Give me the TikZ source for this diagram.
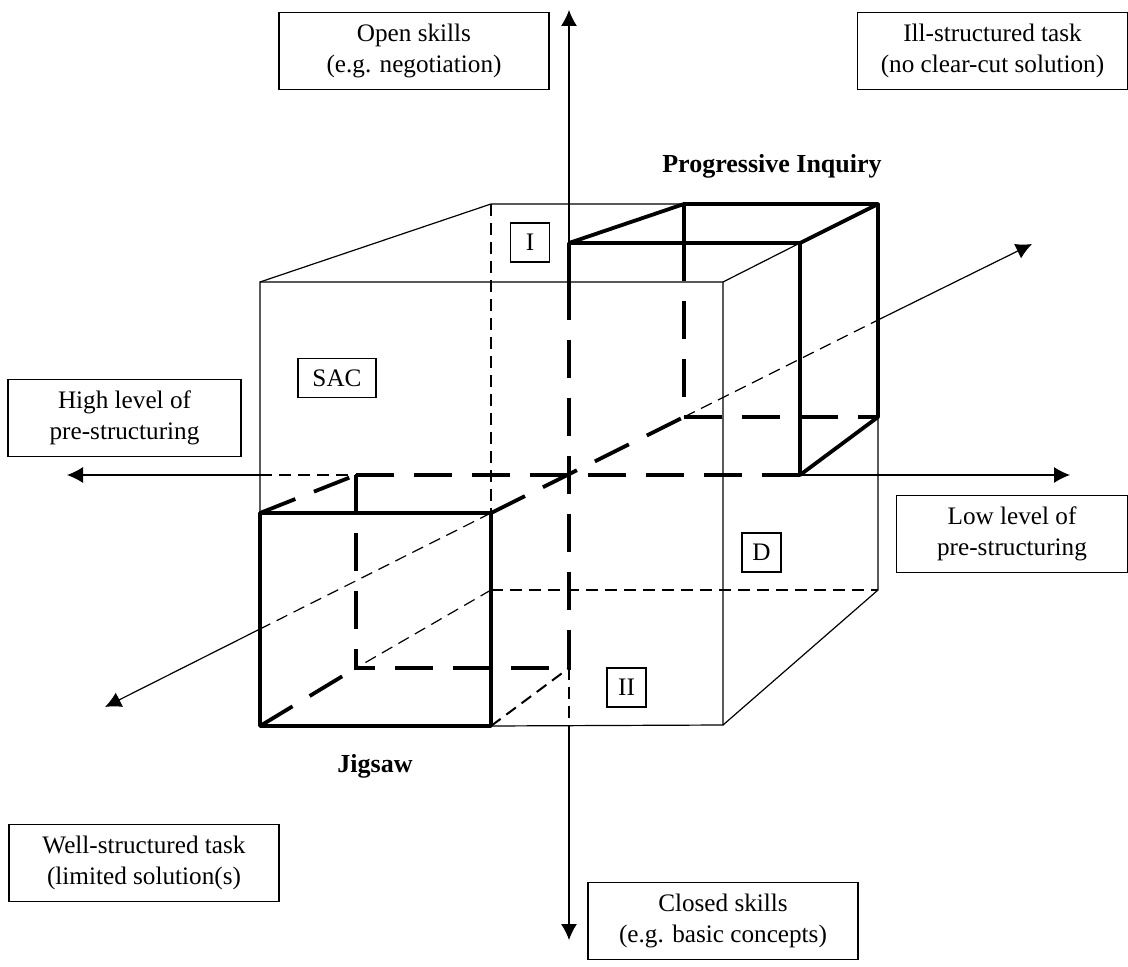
\documentclass[tikz,border=0pt]{standalone}
\usepackage{fontspec}
\setmainfont{Liberation Serif}
\usetikzlibrary{arrows.meta}

\begin{document}
\begin{tikzpicture}[x=0.5pt,y=-0.5pt,
  cubeline/.style={line width=0.6pt},
  cubehidden/.style={line width=0.6pt,dash pattern=on 6pt off 3.5pt},
  modelline/.style={line width=1.9pt,line join=round},
  modelhidden/.style={line width=1.9pt,dash pattern=on 19pt off 10pt},
  axisarrow/.style={line width=0.6pt,-{Latex[length=8pt,width=8pt]}},
  labelbox/.style={draw,line width=0.6pt,fill=white,align=center,inner sep=0pt,
    minimum width=135pt,minimum height=38.5pt,font=\fontsize{12.6}{15.5}\selectfont},
  tagbox/.style={draw,line width=0.6pt,fill=white,inner sep=0pt,
    minimum width=19.5pt,minimum height=19.5pt,font=\fontsize{12.6}{15.5}\selectfont},
  modelname/.style={font=\fontsize{13}{15.5}\selectfont\bfseries}]
  \useasboundingbox (0,0) rectangle (1128,967);

  % Corners of the big cube
  \coordinate (ftl) at (260,282);
  \coordinate (ftr) at (723,282);
  \coordinate (fbr) at (723,725);
  \coordinate (btl) at (491,204);
  \coordinate (btr) at (878,204);
  \coordinate (bbr) at (878,590);
  \coordinate (bbl) at (491,590);

  % Corners of Progressive Inquiry
  \coordinate (p1) at (569,243);
  \coordinate (p2) at (800,243);
  \coordinate (p3) at (800,475);
  \coordinate (p5) at (684,204);
  \coordinate (p7) at (878,417);
  \coordinate (p8) at (684,417);
  \coordinate (pk) at (684,243);

  % Corners of Jigsaw
  \coordinate (j1) at (260,513);
  \coordinate (j2) at (491,513);
  \coordinate (j3) at (491,726);
  \coordinate (j4) at (260,726);
  \coordinate (j5) at (356,475);
  \coordinate (j7) at (569,668);
  \coordinate (j8) at (356,668);
  \coordinate (jk) at (356,513);

  % Axis ends and crossings
  \coordinate (up) at (569,10);
  \coordinate (down) at (569,940);
  \coordinate (left) at (67,475);
  \coordinate (right) at (1070,475);
  \coordinate (front) at (105,707);
  \coordinate (back) at (1032,244);
  \coordinate (vt) at (569,282);
  \coordinate (vb) at (569,725);
  \coordinate (hl) at (260,475);
  \coordinate (fl) at (260,629);
  \coordinate (br) at (878,320);

  % Big cube
  \draw[cubeline] (j1) -- (ftl) -- (ftr) -- (fbr) -- (j3);
  \draw[cubeline] (ftl) -- (btl) -- (p5);
  \draw[cubeline] (ftr) -- (p2);
  \draw[cubeline] (p7) -- (bbr) -- (fbr);
  \draw[cubehidden] (btl) -- (j2);
  \draw[cubehidden] (bbl) -- (bbr);
  \draw[cubehidden] (bbl) -- (j8);

  % Axes
  \draw[axisarrow] (p1) -- (up);
  \draw[cubehidden] (j7) -- (vb);
  \draw[axisarrow] (vb) -- (down);
  \draw[cubehidden] (hl) -- (j5);
  \draw[axisarrow] (hl) -- (left);
  \draw[axisarrow] (p3) -- (right);
  \draw[cubehidden] (j2) -- (fl);
  \draw[axisarrow] (fl) -- (front);
  \draw[cubehidden] (p8) -- (br);
  \draw[axisarrow] (br) -- (back);

  % Progressive Inquiry
  \draw[modelline] (p1) -- (p2) -- (btr) -- (p5) -- cycle;
  \draw[modelline] (p1) -- (vt);
  \draw[modelline] (p2) -- (p3) -- (p7) -- (btr);
  \draw[modelline] (p5) -- (pk);
  \draw[modelhidden] (pk) -- (p8) -- (p7);
  \draw[modelhidden] (vt) -- (j7) -- (j8) -- (jk);
  \draw[modelhidden] (j5) -- (p3);
  \draw[modelhidden] (j2) -- (p8);

  % Jigsaw
  \draw[modelline] (j1) rectangle (j3);
  \draw[modelline] (j5) -- (jk);
  \draw[modelhidden] (j1) -- (j5);
  \draw[modelhidden] (j4) -- (j8);
  \draw[cubehidden,line width=1pt] (j3) -- (j7);

  % Labels
  \node[labelbox] (open) at (414,51) {Open skills\\(e.g. negotiation)};
  \node[labelbox] (ill) at (992.5,51) {Ill-structured task\\(no clear-cut solution)};
  \node[labelbox,minimum width=116.5pt] (high) at (124.5,418) {High level of\\pre-structuring};
  \node[labelbox,minimum width=115.5pt] (low) at (1012,534) {Low level of\\pre-structuring};
  \node[labelbox] (well) at (144,863) {Well-structured task\\(limited solution(s)};
  \node[labelbox] (closed) at (723,921) {Closed skills\\(e.g. basic concepts)};

  \node[tagbox] (one) at (530,242.5) {I};
  \node[tagbox,minimum width=39pt] (sac) at (337,378) {SAC};
  \node[tagbox] (d) at (761.5,552.5) {D};
  \node[tagbox] (two) at (626.5,687.5) {II};

  \node[modelname] (pi) at (772,166) {Progressive Inquiry};
  \node[modelname] (jig) at (375,766) {Jigsaw};

\end{tikzpicture}
\end{document}
